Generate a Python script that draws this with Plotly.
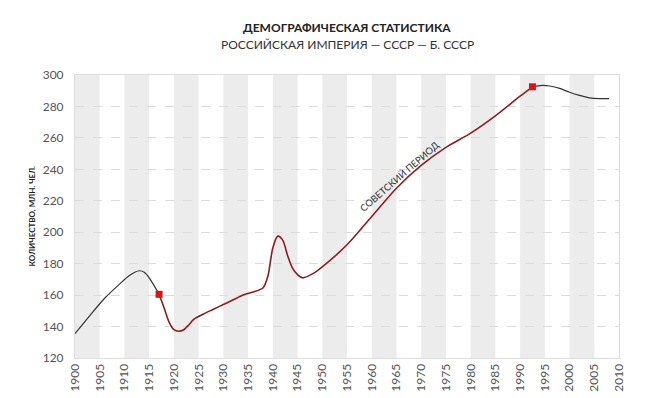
import plotly.graph_objects as go

# Российская империя (до 1917)
years_empire = [1900, 1903, 1906, 1909, 1911, 1913, 1914, 1915, 1916, 1917]
pop_empire = [135.5, 147, 158, 167, 172.5, 175.5, 174.5, 171, 166, 160.5]

# Советский период (1917–1992)
years_ussr = [1917, 1918, 1919, 1920, 1921, 1922, 1923, 1924, 1926, 1928, 1930, 1932,
              1934, 1936, 1938, 1939, 1940, 1941, 1942, 1943, 1944, 1945, 1946, 1948,
              1950, 1955, 1960, 1965, 1970, 1975, 1980, 1985, 1990, 1992.5]
pop_ussr = [160.5, 152, 143, 138, 137, 138, 141, 144.5, 148, 151, 154, 157,
            160, 162, 164.5, 172, 190, 197.5, 195, 185, 177, 173, 171, 173.5,
            178, 192, 210, 228, 242.5, 254, 263, 274, 286.5, 292.5]

# Бывший СССР (после 1992)
years_post = [1992.5, 1994.5, 1996, 1998, 2000, 2002, 2004, 2006, 2008]
pop_post = [292.5, 293.4, 293, 291.5, 289, 287, 285.5, 285, 285]

# Точки перехода
marker_years = [1917, 1992.5]
marker_pop = [160.5, 292.5]

x_ticks = list(range(1900, 2011, 5))
band_starts = list(range(1900, 2010, 10))

title = "ДЕМОГРАФИЧЕСКАЯ СТАТИСТИКА"
subtitle = "РОССИЙСКАЯ ИМПЕРИЯ — СССР — Б. СССР"
y_title = "КОЛИЧЕСТВО, МЛН. ЧЕЛ."
period_label = "СОВЕТСКИЙ ПЕРИОД"

FONT = "Lato"

fig = go.Figure()
fig.add_trace(go.Scatter(x=years_empire, y=pop_empire, mode="lines",
                         line=dict(color="#333333", width=1.2, shape="spline", smoothing=0.8),
                         hoverinfo="x+y", showlegend=False))
fig.add_trace(go.Scatter(x=years_post, y=pop_post, mode="lines",
                         line=dict(color="#333333", width=1.2, shape="spline", smoothing=0.8),
                         hoverinfo="x+y", showlegend=False))
fig.add_trace(go.Scatter(x=years_ussr, y=pop_ussr, mode="lines",
                         line=dict(color="#8e1c1f", width=1.6, shape="spline", smoothing=0.8),
                         hoverinfo="x+y", showlegend=False))
fig.add_trace(go.Scatter(x=marker_years, y=marker_pop, mode="markers",
                         marker=dict(symbol="square", size=7, color="#d4161c"),
                         hoverinfo="x+y", showlegend=False))

shapes = []
for s in band_starts:
    shapes.append(dict(type="rect", xref="x", yref="paper", x0=s, x1=s + 5, y0=0, y1=1,
                       fillcolor="#ececec", line=dict(width=0), layer="below"))

fig.update_layout(
    width=644, height=390,
    margin=dict(l=67, r=33, t=67, b=40),
    paper_bgcolor="white", plot_bgcolor="white",
    font=dict(family=FONT, color="#555555", size=12),
    shapes=shapes,
    annotations=[
        dict(text="<b>" + title + "</b>", xref="paper", yref="paper", x=0.5, y=1,
             xanchor="center", yanchor="bottom", yshift=38, showarrow=False,
             font=dict(family=FONT, size=12, color="#222222")),
        dict(text=subtitle, xref="paper", yref="paper", x=0.5, y=1,
             xanchor="center", yanchor="bottom", yshift=21, showarrow=False,
             font=dict(family=FONT, size=12, color="#333333")),
        dict(text="<b>" + y_title + "</b>", xref="paper", yref="paper", x=0, y=0.5,
             xanchor="center", yanchor="middle", xshift=-44, textangle=-90, showarrow=False,
             font=dict(family=FONT, size=8, color="#222222")),
        dict(text=period_label, xref="x", yref="y", x=1965.6, y=235.5, textangle=-41,
             showarrow=False, font=dict(family=FONT, size=9.5, color="#333333")),
    ],
    xaxis=dict(range=[1900, 2010], tickmode="array", tickvals=x_ticks,
               ticktext=[str(v) for v in x_ticks], tickangle=-90, automargin=False,
               showgrid=False, zeroline=False, showline=True, linecolor="#dddddd",
               linewidth=1, mirror=True, ticks="", tickfont=dict(size=12, color="#555555")),
    yaxis=dict(range=[120, 300], dtick=20, showgrid=True, gridcolor="#dcdcdc",
               griddash="dash", gridwidth=1, zeroline=False, showline=True, automargin=False,
               linecolor="#dddddd", linewidth=1, mirror=True, ticks="",
               ticklabelstandoff=8, tickfont=dict(size=12, color="#555555")),
)

fig.write_html("out.html")
